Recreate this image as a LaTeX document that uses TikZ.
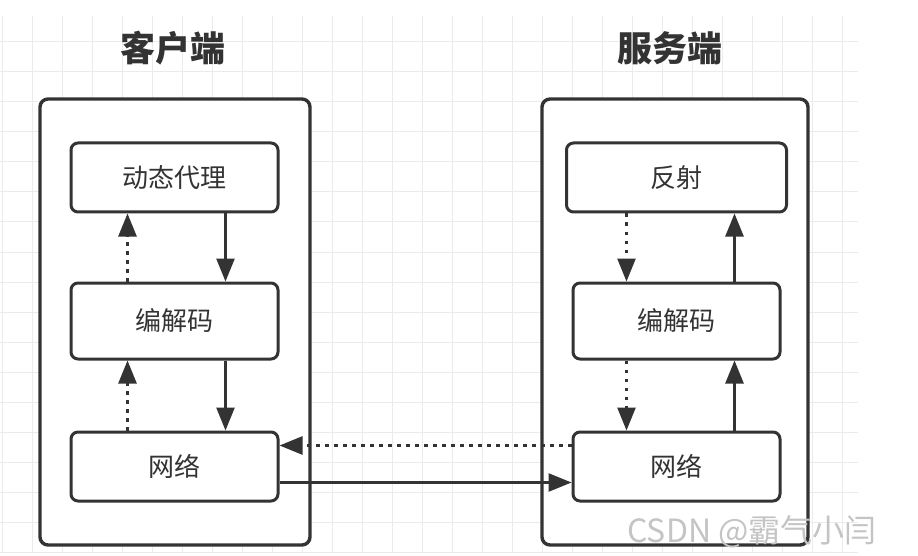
\documentclass[tikz,border=0pt]{standalone}
\usepackage{fontspec}
\usepackage{tikz}
\usetikzlibrary{arrows.meta}
\newfontfamily\cjk{Noto Sans CJK SC}
\definecolor{ink}{HTML}{333333}
\definecolor{gridline}{HTML}{EBEBEB}
\definecolor{mark}{HTML}{C4C4C4}

\begin{document}
\begin{tikzpicture}[x=1pt,y=-1pt,>={Triangle[length=23pt,width=18pt]},font=\cjk,
  outer/.style={draw=ink,fill=white,line width=3.4pt,rounded corners=8pt,minimum width=#1,minimum height=446pt,inner sep=0pt},
  part/.style={draw=ink,fill=white,line width=3pt,rounded corners=7pt,minimum width=#1,minimum height=69pt,inner sep=0pt,text=ink,font=\cjk\fontsize{26}{30}\selectfont},
  title/.style={text=ink,font=\cjk\bfseries\fontsize{35}{40}\selectfont},
  flow/.style={->,draw=ink,line width=2.6pt},
  back/.style={flow,dash pattern=on 3.4pt off 5.6pt}]
\fill[white] (0,0) rectangle (918,556);
\useasboundingbox (0,0) rectangle (918,556);
\foreach \i in {0,...,28} \draw[gridline,line width=1pt] (2+30*\i,16) -- (2+30*\i,553);
\foreach \j in {1,...,18} \draw[gridline,line width=1pt] (0,12+30*\j) -- (858,12+30*\j);

\node[outer=270pt] (client) at (175,322) {};
\node[outer=266pt] (server) at (675,322) {};
\node[title] (ctitle) at (173,48) {客户端};
\node[title] (stitle) at (670,48) {服务端};

\node[part=207pt] (proxy) at (174.5,177.5) {动态代理};
\node[part=207pt,minimum height=76pt] (ccodec) at (174.5,321) {编解码};
\node[part=207pt] (cnet) at (174.5,466.5) {网络};
\node[part=220pt] (reflect) at (676.5,177.5) {反射};
\node[part=207pt,minimum height=76pt] (scodec) at (676.5,321) {编解码};
\node[part=207pt] (snet) at (676.5,466.5) {网络};

\foreach \a/\b in {proxy/ccodec,ccodec/cnet} {
  \draw[back] ([xshift=-47pt]\b.north) -- ([xshift=-47pt]\a.south);
  \draw[flow] ([xshift=51pt]\a.south) -- ([xshift=51pt]\b.north);
}
\foreach \a/\b in {reflect/scodec,scodec/snet} {
  \draw[back] ([xshift=-50pt]\a.south) -- ([xshift=-50pt]\b.north);
  \draw[flow] ([xshift=58pt]\b.north) -- ([xshift=58pt]\a.south);
}
\draw[back] ([yshift=21pt]snet.west) -- ([yshift=21pt]cnet.east);
\draw[flow] ([yshift=-16pt]cnet.east) -- ([yshift=-16pt]snet.west);

\node[text=mark,font=\cjk\fontsize{32}{36}\selectfont] (credit) at (752,532) {CSDN @霸气小闫};
\end{tikzpicture}
\end{document}
